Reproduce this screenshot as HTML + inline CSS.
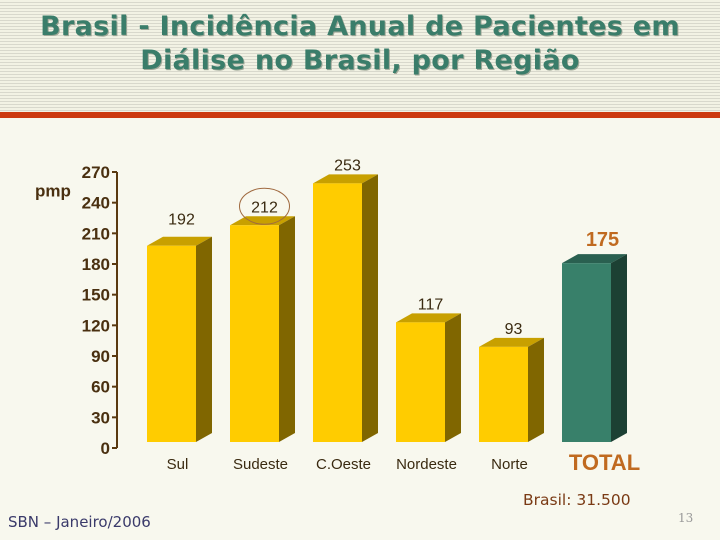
<!DOCTYPE html>
<html><head><meta charset="utf-8"><style>
html,body{margin:0;padding:0}
body{width:720px;height:540px;background:#f8f8ee;position:relative;overflow:hidden;font-family:"Liberation Sans",sans-serif}
#hdr{position:absolute;left:0;top:0;width:720px;height:112px;background:repeating-linear-gradient(to bottom,#f2f2e4 0px,#f2f2e4 2px,#d8d8cc 2px,#d8d8cc 3px)}
#title{position:absolute;left:0;top:10px;width:720px;text-align:center;font-family:"DejaVu Sans",sans-serif;font-weight:bold;font-size:27px;line-height:34px;color:#3a7d6a;text-shadow:1px 1px 0 #a0a898;letter-spacing:0.3px}
#redbar{position:absolute;left:0;top:112px;width:720px;height:6px;background:#cc3a10}
#foot{position:absolute;left:8px;top:513px;font-family:"DejaVu Sans",sans-serif;font-size:15px;color:#3a3a6a}
#pg{position:absolute;left:678px;top:511px;font-family:"DejaVu Serif",serif;font-size:12px;color:#999}
#bras{position:absolute;left:523px;top:491px;font-family:"DejaVu Sans",sans-serif;font-size:15.5px;color:#7a3a14}
</style></head><body>
<div id="hdr"></div>
<div id="title">Brasil - Incidência Anual de Pacientes em<br>Diálise no Brasil, por Região</div>
<div id="redbar"></div>
<svg id="chart" width="720" height="540" style="position:absolute;left:0;top:0"></svg>
<div id="bras">Brasil: 31.500</div>
<div id="foot">SBN – Janeiro/2006</div>
<div id="pg">13</div>
<script>
const categories=["Sul","Sudeste","C.Oeste","Nordeste","Norte","TOTAL"];
const values=[192,212,253,117,93,175];
const ticks=[0,30,60,90,120,150,180,210,240,270];
const NS="http://www.w3.org/2000/svg";
const svg=document.getElementById('chart');
const axisX=117, base=448, bbase=442, scale=276/270;
const y=v=>base-v*scale;
const by=v=>bbase-v*scale;
const bx=i=>147+i*83;
const W=49,DX=16,DY=9;
function mk(t,a){const e=document.createElementNS(NS,t);for(const k in a)e.setAttribute(k,a[k]);svg.appendChild(e);return e;}
let ax=mk('line',{x1:axisX,y1:y(270),x2:axisX,y2:base,stroke:'#5a3a10','stroke-width':2});


ticks.forEach(t=>{
 let l=mk('line',{x1:axisX-5,y1:y(t),x2:axisX,y2:y(t),stroke:'#5a3a10','stroke-width':2});
 
 
 let tx=mk('text',{x:axisX-7,y:y(t)+6,'text-anchor':'end','font-size':17,'font-weight':'bold',fill:'#4a3010','font-family':'Liberation Sans, sans-serif'});
 tx.textContent=t;
 
 
});
let pmp=mk('text',{x:35,y:y(240)-6,'font-size':17,'font-weight':'bold',fill:'#4a3010','font-family':'Liberation Sans, sans-serif'});
pmp.textContent='pmp';


values.forEach((v,i)=>{
 const tot=i===categories.length-1;
 const x=bx(i),t=by(v);
 const front=tot?'#38806a':'#ffcc00', top=tot?'#2a6050':'#c8a000', side=tot?'#1c4033':'#806600';
 const g=document.createElementNS(NS,'g');svg.appendChild(g);
 
 
 const p=(pts,f)=>{const e=document.createElementNS(NS,'polygon');e.setAttribute('points',pts);e.setAttribute('fill',f);g.appendChild(e);};
 p(`${x},${t} ${x+DX},${t-DY} ${x+W+DX},${t-DY} ${x+W},${t}`,top);
 p(`${x+W},${t} ${x+W+DX},${t-DY} ${x+W+DX},${bbase-DY} ${x+W},${bbase}`,side);
 p(`${x},${t} ${x+W},${t} ${x+W},${bbase} ${x},${bbase}`,front);
 const lbl=mk('text',{x:x+W/2+(tot?16:10),y:t-(tot?17:13)-(i===0?8:0),'text-anchor':'middle','font-size':tot?20:16,'font-weight':tot?'bold':'normal',fill:tot?'#c06a20':'#3a2a10','font-family':'Liberation Sans, sans-serif'});
 lbl.textContent=v;
 
 
 if(i===1){const c=mk('ellipse',{cx:x+W/2+10,cy:t-19,rx:25,ry:18,fill:'none',stroke:'#a06a40','stroke-width':1});
  
  }
 const cl=mk('text',{x:x+W/2+(tot?18:6),y:tot?470:469,'text-anchor':'middle','font-size':tot?22:15,'font-weight':tot?'bold':'normal',fill:tot?'#c06a20':'#3a2a10','font-family':'Liberation Sans, sans-serif'});
 cl.textContent=categories[i];
 
 
});
</script>
</body></html>
